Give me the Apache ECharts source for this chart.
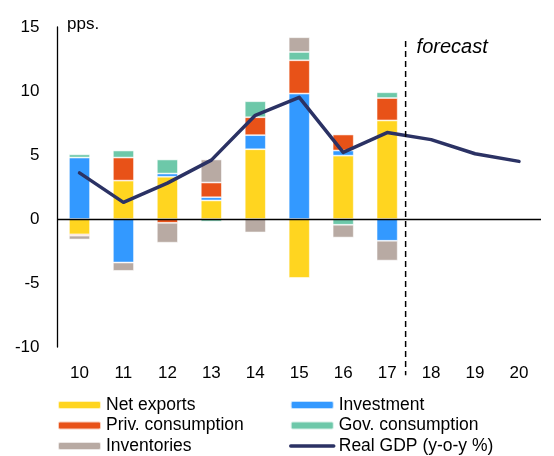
<!DOCTYPE html>
<html>
<head>
<meta charset="utf-8">
<script src="https://cdn.jsdelivr.net/npm/echarts@6/dist/echarts.min.js"></script>
<style>
  html, body { margin: 0; padding: 0; background: #fff; }
  #chart { width: 554px; height: 456px; }
</style>
</head>
<body>
<div id="chart"></div>
<script>
/* ---------- data ---------- */
const years = ['10', '11', '12', '13', '14', '15', '16', '17', '18', '19', '20'];
const yTicks = [-10, -5, 0, 5, 10, 15];

const netExports  = [-1.2,  3.0,  3.3,  1.45,  5.45, -4.6,  4.95,  7.7];
const investment  = [ 4.8, -3.4,  0.25, 0.25,  1.1,   9.8,  0.4,  -1.7];
const privCons    = [-0.1,  1.8, -0.3,  1.15,  1.4,   2.6,  1.25,  1.75];
const govCons     = [ 0.25, 0.55, 1.1, -0.2,   1.25,  0.65, -0.45, 0.45];
const inventories = [-0.3, -0.65, -1.55, 1.8, -1.05,  1.15, -1.0, -1.55];
const realGdp     = [3.6, 1.3, 2.8, 4.6, 8.1, 9.5, 5.2, 6.75, 6.2, 5.1, 4.5];

/* ---------- setup ---------- */
const chart = echarts.init(document.getElementById('chart'));
const FONT = '"Liberation Sans", Arial, sans-serif';
const GDP_COLOR = '#2B3264';

function barSeries(name, values, color, extra) {
  return Object.assign({
    name: name,
    type: 'bar',
    stack: 'pps',
    barWidth: '48%',
    data: values,
    itemStyle: { color: color, borderColor: 'rgba(255,255,255,0.7)', borderWidth: 0.8 }
  }, extra || {});
}

const legendText = { fontFamily: FONT, fontSize: 17.5, color: '#000', lineHeight: 20 };

chart.setOption({
  backgroundColor: '#fff',
  animation: false,
  textStyle: { fontFamily: FONT },
  title: {
    text: 'pps.',
    left: 67, top: 16,
    padding: 0,
    textStyle: { fontFamily: FONT, fontSize: 17, fontWeight: 'normal', color: '#000' }
  },
  grid: { left: 57.5, right: 13, top: 27, bottom: 109 },
  legend: [
    {
      left: 57, top: 395, orient: 'vertical', padding: 0, itemGap: 0.5,
      itemWidth: 43, itemHeight: 8,
      data: ['Net exports', 'Priv. consumption', 'Inventories'],
      textStyle: legendText
    },
    {
      left: 289, top: 395, orient: 'vertical', padding: 0, itemGap: 0.5,
      itemWidth: 43, itemHeight: 8,
      data: [
        'Investment',
        'Gov. consumption',
        {
          name: 'Real GDP (y-o-y %)',
          itemStyle: { opacity: 0 },
          lineStyle: { width: 3.5, color: GDP_COLOR, cap: 'round' }
        }
      ],
      textStyle: legendText
    }
  ],
  xAxis: {
    type: 'category',
    data: years,
    axisLine: { show: false },
    axisTick: { show: false },
    axisLabel: { margin: 18, fontSize: 17, color: '#000', fontFamily: FONT }
  },
  yAxis: {
    type: 'value',
    min: yTicks[0], max: yTicks[yTicks.length - 1], interval: 5,
    axisLine: { show: true, lineStyle: { color: '#000', width: 1.3 } },
    axisTick: { show: false },
    splitLine: { show: false },
    axisLabel: { margin: 18, fontSize: 17, color: '#000', fontFamily: FONT }
  },
  series: [
    barSeries('Net exports', netExports, '#FFD520', {
      markLine: {
        silent: true, symbol: 'none', label: { show: false },
        lineStyle: { color: '#000', width: 1.3, type: 'solid' },
        data: [{ yAxis: 0 }]
      }
    }),
    barSeries('Investment', investment, '#3399FF'),
    barSeries('Priv. consumption', privCons, '#E85218'),
    barSeries('Gov. consumption', govCons, '#6DC8A9'),
    barSeries('Inventories', inventories, '#B8AAA3'),
    {
      name: 'Real GDP (y-o-y %)',
      type: 'line',
      data: realGdp,
      symbol: 'none',
      z: 5,
      lineStyle: { color: GDP_COLOR, width: 3.5, cap: 'round', join: 'round' },
      itemStyle: { color: GDP_COLOR }
    }
  ]
});

/* ---------- forecast divider ---------- */
const x17 = chart.convertToPixel({ xAxisIndex: 0 }, '17');
const x18 = chart.convertToPixel({ xAxisIndex: 0 }, '18');
const xDiv = x17 + 0.42 * (x18 - x17);
const yTop = chart.convertToPixel({ yAxisIndex: 0 }, 13.9);
const yBot = chart.convertToPixel({ yAxisIndex: 0 }, -12.2);

chart.setOption({
  graphic: [
    {
      type: 'line', z: 10,
      shape: { x1: xDiv, y1: yTop, x2: xDiv, y2: yBot },
      style: { stroke: '#000', lineWidth: 1.5, lineDash: [6, 4] }
    },
    {
      type: 'text', z: 10,
      left: xDiv + 11, top: 37,
      style: { text: 'forecast', fontFamily: FONT, fontSize: 20, fontStyle: 'italic', fill: '#000' }
    }
  ]
});
</script>
</body>
</html>
